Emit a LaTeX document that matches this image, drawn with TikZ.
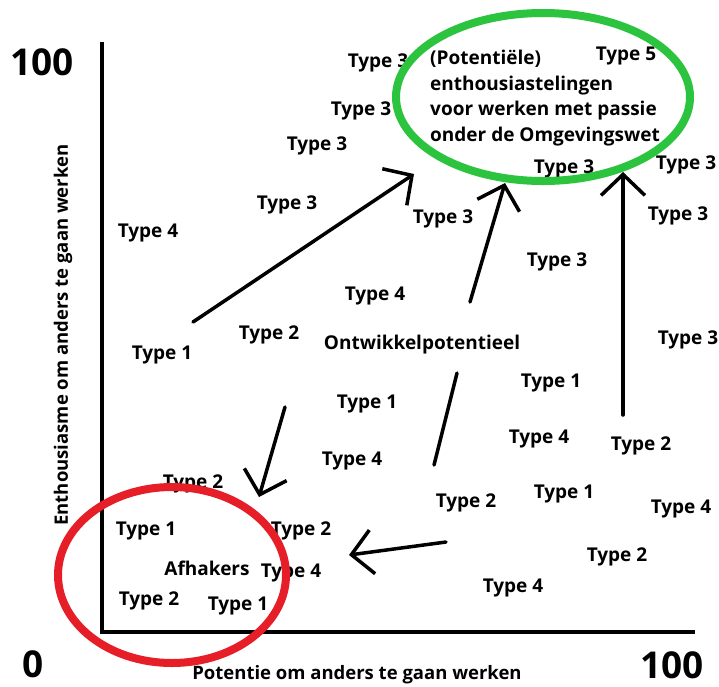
\documentclass[tikz,border=0pt]{standalone}
\usepackage{fontspec}
\setmainfont{Open Sans}
\usepackage{xcolor}
\usetikzlibrary{arrows.meta}
\definecolor{passiegroen}{RGB}{44,196,62}
\definecolor{afhaakrood}{RGB}{230,30,40}
\tikzset{
  soort/.style={font=\bfseries\fontsize{19}{22}\selectfont, inner sep=0pt},
  aslabel/.style={font=\bfseries\fontsize{18.5}{22}\selectfont, inner sep=0pt},
  groot/.style={font=\bfseries\fontsize{37}{40}\selectfont, inner sep=0pt},
  as/.style={line width=4pt},
  pijl/.style={line width=3.5pt, line cap=round, -{Straight Barb[length=21pt,width=44pt]}},
  streep/.style={line width=3.5pt, line cap=round},
  ring/.style={line width=8pt, draw=#1},
}

\begin{document}
\begin{tikzpicture}[x=1pt,y=-1pt]
\useasboundingbox (0,0) rectangle (719,686);
% assen
\coordinate (ytop) at (102,42);
\coordinate (oorsprong) at (102,632);
\coordinate (xeind) at (695,632);
\draw[as] (ytop) -- (oorsprong) -- (xeind);
\node[groot] (honderdy) at (42,62) {100};
\node[groot] (nul) at (33,664) {0};
\node[groot] (honderdx) at (672,665) {100};
\node[aslabel, rotate=90] (ylabel) at (63,335) {Enthousiasme om anders te gaan werken};
\node[aslabel] (xlabel) at (357,675) {Potentie om anders te gaan werken};

% typen
\node[soort] (t3a) at (378,63) {Type 3};
\node[soort] (t3b) at (361,111) {Type 3};
\node[soort] (t3c) at (317,146) {Type 3};
\node[soort] (t3d) at (287,205) {Type 3};
\node[soort] (t4a) at (148,233) {Type 4};
\node[soort] (t5) at (626,56) {Type 5};
\node[soort] (t3e) at (564,169) {Type 3};
\node[soort] (t3f) at (686,165) {Type 3};
\node[soort] (t3g) at (678,216) {Type 3};
\node[soort] (t3h) at (443,219) {Type 3};
\node[soort] (t3i) at (557,262) {Type 3};
\node[soort] (t4b) at (375,296) {Type 4};
\node[soort] (t1a) at (162,355) {Type 1};
\node[soort] (t2a) at (269,335) {Type 2};
\node[soort] (ontw) at (422,345) {Ontwikkelpotentieel};
\node[soort] (t3j) at (688,340) {Type 3};
\node[soort] (t1b) at (551,383) {Type 1};
\node[soort] (t1c) at (367,404) {Type 1};
\node[soort] (t4c) at (539,439) {Type 4};
\node[soort] (t2b) at (641,446) {Type 2};
\node[soort] (t4d) at (352,461) {Type 4};
\node[soort] (t2c) at (193,484) {Type 2};
\node[soort] (t2d) at (466,503) {Type 2};
\node[soort] (t1d) at (564,494) {Type 1};
\node[soort] (t4e) at (681,509) {Type 4};
\node[soort] (t1e) at (146,531) {Type 1};
\node[soort] (t2e) at (301,531) {Type 2};
\node[soort] (afh) at (207,568) {Afhakers};
\node[soort] (t4f) at (291,573) {Type 4};
\node[soort] (t2f) at (617,557) {Type 2};
\node[soort] (t2g) at (149,601) {Type 2};
\node[soort] (t1f) at (238,606) {Type 1};
\node[soort] (t4g) at (513,588) {Type 4};

% groepen
\node[soort, align=left, anchor=north west, font=\bfseries\fontsize{19}{25.5}\selectfont] (enth) at (430,50)
  {(Potentiële)\\enthousiastelingen\\voor werken met passie\\onder de Omgevingswet};
\draw[ring=passiegroen] (543,97) ellipse (147 and 84);
\draw[ring=afhaakrood] (172,575) ellipse (114 and 88);

% pijlen
\coordinate (p1s) at (193,322);
\coordinate (p1e) at (414,174);
\coordinate (p2s) at (470,302);
\coordinate (p2e) at (505,183);
\coordinate (p3s) at (623,415);
\coordinate (p3e) at (623,172);
\coordinate (p4s) at (457,373);
\coordinate (p4e) at (434,465);
\coordinate (p5s) at (446,542);
\coordinate (p5e) at (349,555);
\coordinate (p6s) at (285,407);
\coordinate (p6e) at (259,497);
\draw[pijl] (p1s) -- (p1e);
\draw[pijl] (p2s) -- (p2e);
\draw[pijl] (p3s) -- (p3e);
\draw[streep] (p4s) -- (p4e);
\draw[pijl] (p5s) -- (p5e);
\draw[pijl] (p6s) -- (p6e);
\end{tikzpicture}
\end{document}
